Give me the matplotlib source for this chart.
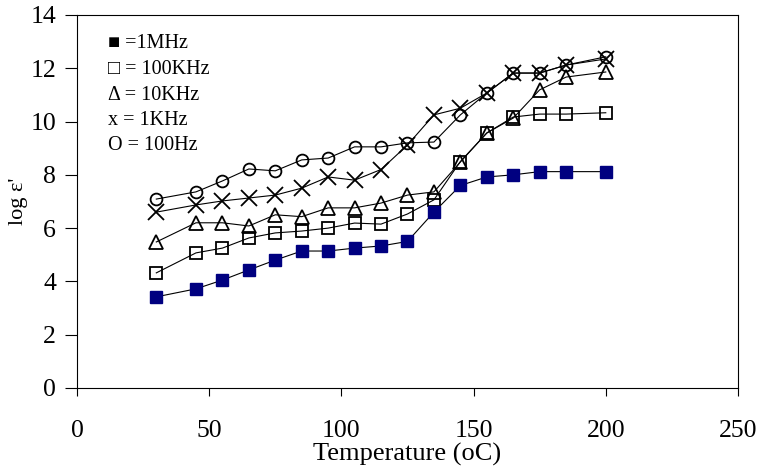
import matplotlib
matplotlib.use("Agg")
import matplotlib.pyplot as plt

plt.rcParams['font.family'] = ['Liberation Serif', 'DejaVu Serif']

temperature = [30, 45, 55, 65, 75, 85, 95, 105, 115, 125, 135, 145, 155, 165, 175, 185, 200]

f_1mhz = [3.42, 3.72, 4.05, 4.43, 4.8, 5.14, 5.14, 5.25, 5.33, 5.5, 6.6, 7.6, 7.92, 8.0, 8.12, 8.12, 8.12]
f_100khz = [4.32, 5.07, 5.25, 5.63, 5.82, 5.89, 6.0, 6.19, 6.15, 6.53, 7.06, 8.5, 9.57, 10.17, 10.28, 10.28, 10.33]
f_10khz = [5.48, 6.2, 6.2, 6.08, 6.5, 6.43, 6.76, 6.76, 6.94, 7.24, 7.36, 8.48, 9.57, 10.13, 11.19, 11.67, 11.86]
f_1khz = [6.6, 6.87, 7.02, 7.13, 7.24, 7.5, 7.92, 7.8, 8.2, 9.12, 10.25, 10.5, 11.07, 11.82, 11.82, 12.12, 12.35]
f_100hz = [7.09, 7.36, 7.77, 8.22, 8.15, 8.56, 8.63, 9.05, 9.05, 9.2, 9.23, 10.25, 11.07, 11.82, 11.82, 12.12, 12.43]

legend_lines = ["\u25a0 =1MHz", "\u25a1 = 100KHz", "\u0394 = 10KHz", "x = 1KHz", "O = 100Hz"]

fig = plt.figure(figsize=(7.6, 4.68), dpi=100)
ax = fig.add_axes([0.1013, 0.171, 0.8697, 0.797])

lw = 0.8
ax.plot(temperature, f_1mhz, '-s', color='black', lw=lw, ms=9,
        mfc='#000080', mec='#000080', zorder=3)
ax.plot(temperature, f_100khz, '-s', color='black', lw=lw, ms=8.5,
        mfc='none', mec='black', mew=1.3)
ax.plot(temperature, f_10khz, '-^', color='black', lw=lw, ms=10.5,
        mfc='none', mec='black', mew=1.3)
ax.plot(temperature, f_1khz, '-x', color='black', lw=lw, ms=11.5,
        mec='black', mew=1.3)
ax.plot(temperature, f_100hz, '-o', color='black', lw=lw, ms=8.5,
        mfc='none', mec='black', mew=1.3)

ax.set_xlim(0, 250)
ax.set_ylim(0, 14)
ax.set_xticks(range(0, 251, 50))
ax.set_yticks(range(0, 15, 2))
ax.tick_params(axis='both', labelsize=18.5, direction='out', width=0.8)
ax.tick_params(axis='x', length=6, pad=17)
ax.tick_params(axis='y', length=9, pad=6)
for s in ax.spines.values():
    s.set_linewidth(0.8)

ax.set_xlabel("Temperature (oC)", fontsize=19, labelpad=1)
ax.set_ylabel("log \u03b5'", fontsize=16, labelpad=2)

for i, txt in enumerate(legend_lines):
    fig.text(108 / 760, 1 - (44 + i * 25.5) / 468, txt, fontsize=14.5,
             va='center', ha='left')

fig.savefig("out.png", dpi=100)
